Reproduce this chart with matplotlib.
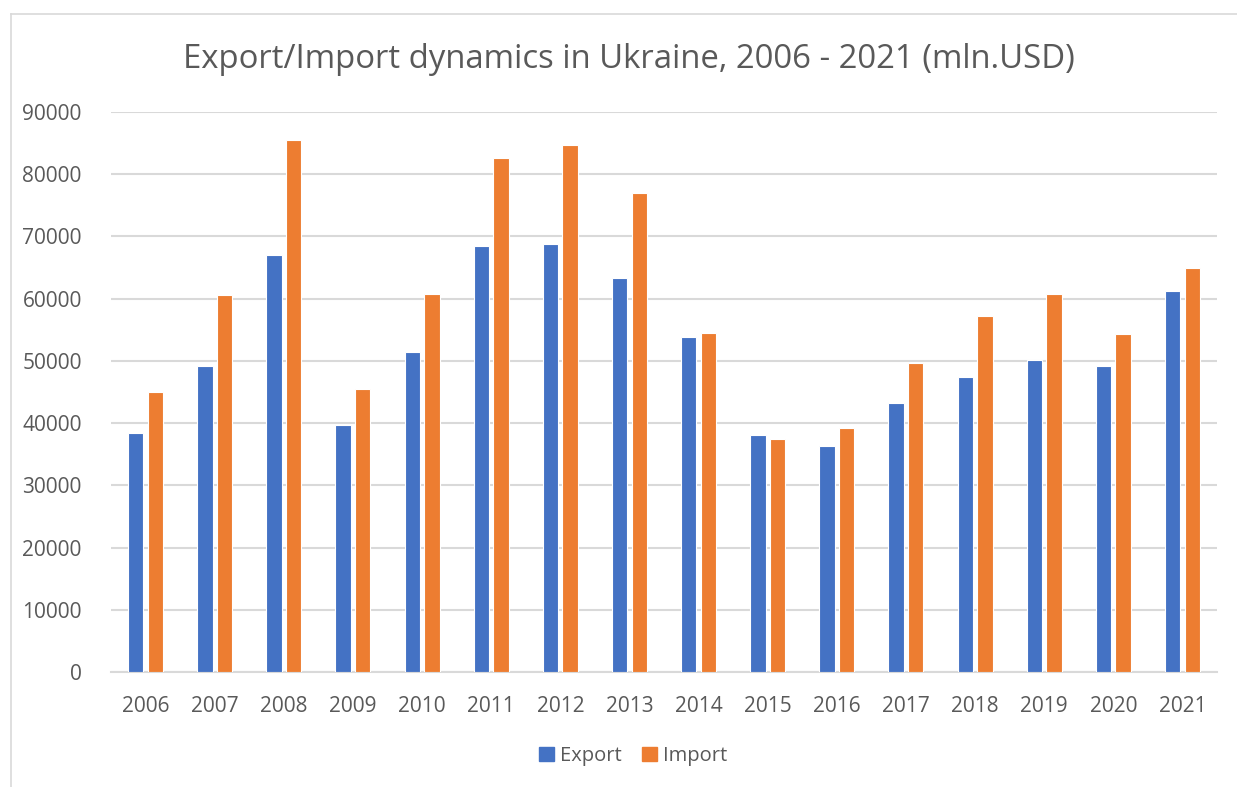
import numpy as np
import matplotlib
matplotlib.use('Agg')
import matplotlib.pyplot as plt
from matplotlib.patches import Patch

plt.rcParams['font.family'] = ['Open Sans', 'DejaVu Sans']

years = ['2006', '2007', '2008', '2009', '2010', '2011', '2012', '2013',
         '2014', '2015', '2016', '2017', '2018', '2019', '2020', '2021']
export = [38370, 49250, 67000, 39700, 51390, 68440, 68770, 63300,
          53850, 38090, 36370, 43240, 47370, 50100, 49190, 61250]
imports = [45000, 60660, 85500, 45430, 60720, 82600, 84640, 76970,
           54450, 37500, 39210, 49620, 57180, 60770, 54330, 64850]

blue = '#4472C4'
orange = '#ED7D31'
txt = '#595959'

fig = plt.figure(figsize=(12.37, 7.87), dpi=100)
ax = fig.add_axes([111/1237, 1 - 672/787, (1217-111)/1237, (672-112)/787])

x = np.arange(len(years))
w = 0.224
ax.bar(x - 0.142, export, width=w, color=blue, edgecolor='#ffffff', linewidth=0.8, zorder=3)
ax.bar(x + 0.142, imports, width=w, color=orange, edgecolor='#ffffff', linewidth=0.8, zorder=3)

ax.set_xlim(-0.5, len(years) - 0.5)
ax.set_ylim(0, 90000)
ax.set_yticks(np.arange(0, 90001, 10000))
ax.set_xticks(x)
ax.set_xticklabels(years)
ax.yaxis.grid(True, color='#D9D9D9', linewidth=1.5, zorder=0)
ax.set_axisbelow(True)
for s in ['top', 'right', 'left']:
    ax.spines[s].set_visible(False)
ax.spines['bottom'].set_color('#D9D9D9')
ax.spines['bottom'].set_linewidth(1.5)
ax.tick_params(axis='both', length=0, labelsize=15, labelcolor=txt)
ax.tick_params(axis='y', pad=21)
ax.tick_params(axis='x', pad=17)

fig.text(629/1237, 1 - 60/787, 'Export/Import dynamics in Ukraine, 2006 - 2021 (mln.USD)',
         ha='center', va='center', fontsize=23.7, color=txt)

handles = [Patch(color=blue, label='Export'), Patch(color=orange, label='Import')]
fig.legend(handles=handles, loc='center', bbox_to_anchor=(633/1237, 1 - 756/787), ncol=2,
           frameon=False, fontsize=14.5, labelcolor=txt, handlelength=0.75, handleheight=0.75,
           handletextpad=0.3, columnspacing=1.0)

# chart border
fig.add_artist(plt.Line2D([10.5/1237, 10.5/1237], [0, 1 - 13.5/787], color='#D9D9D9', linewidth=1.2))
fig.add_artist(plt.Line2D([10.5/1237, 1], [1 - 13.5/787, 1 - 13.5/787], color='#D9D9D9', linewidth=1.2))

fig.savefig('out.png', dpi=100)
